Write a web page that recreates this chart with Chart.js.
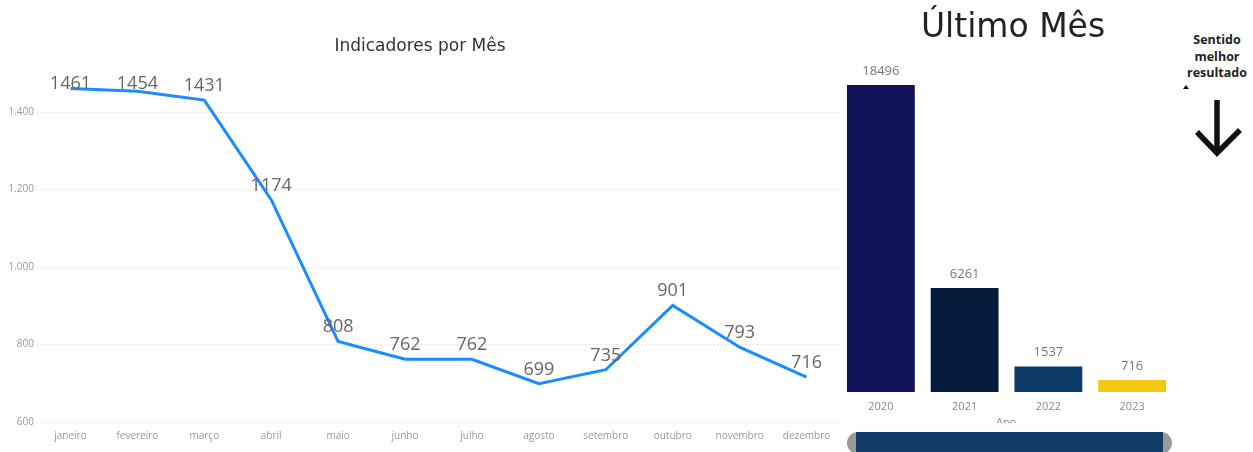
<!DOCTYPE html>
<html>
<head>
<meta charset="utf-8">
<script src="https://cdn.jsdelivr.net/npm/chart.js@4.4.0/dist/chart.umd.min.js"></script>
<style>
  body { margin: 0; background: #fff; width: 1253px; height: 452px; overflow: hidden; position: relative; font-family: 'Open Sans', sans-serif; }
  #lineWrap { position: absolute; left: 0; top: 0; width: 840px; height: 452px; }
  #barWrap { position: absolute; left: 839px; top: 0; width: 335px; height: 452px; }
  .lastTitle { position: absolute; left: 863px; top: 6px; width: 300px; text-align: center; font: 33px 'DejaVu Sans', sans-serif; color: #222; }
  .sentido { position: absolute; left: 1177px; top: 32px; width: 80px; text-align: center; font: bold 12.5px 'Open Sans', sans-serif; line-height: 16.5px; color: #222; }
  .caret { position: absolute; left: 1183px; top: 85px; width: 0; height: 0; border-left: 3px solid transparent; border-right: 3px solid transparent; border-bottom: 4px solid #111; }
  .arrow { position: absolute; left: 1190px; top: 96px; }
  .ano { position: absolute; left: 996px; top: 414px; font: 11px 'Open Sans', sans-serif; color: #888; height: 9px; overflow: hidden; }
  .scroll { position: absolute; left: 847px; top: 432px; width: 325px; height: 22px; background: #9a9a9a; border-radius: 11px; }
  .scroll div { position: absolute; left: 9px; right: 9px; top: 0; bottom: 0; background: #123c67; }
</style>
</head>
<body>
<div id="lineWrap"><canvas id="lineChart"></canvas></div>
<div id="barWrap"><canvas id="barChart"></canvas></div>
<div class="lastTitle">Último Mês</div>
<div class="sentido">Sentido<br>melhor<br>resultado</div>
<div class="caret"></div>
<svg class="arrow" width="58" height="64" viewBox="0 0 58 64">
  <line x1="27" y1="4" x2="27" y2="57" stroke="#111" stroke-width="5.5"/>
  <polyline points="7,36 27,57 50,34" fill="none" stroke="#111" stroke-width="5.5"/>
</svg>
<div class="ano">Ano</div>
<div class="scroll"><div></div></div>
<script>
const months = ['janeiro', 'fevereiro', 'março', 'abril', 'maio', 'junho', 'julho', 'agosto', 'setembro', 'outubro', 'novembro', 'dezembro'];
const monthValues = [1461, 1454, 1431, 1174, 808, 762, 762, 699, 735, 901, 793, 716];
const yTicks = [600, 800, 1000, 1200, 1400];

const years = ['2020', '2021', '2022', '2023'];
const yearValues = [18496, 6261, 1537, 716];
const yearColors = ['#0f1257', '#041b3b', '#0b3a66', '#f2c811'];

// draws the value above each point / bar
const valueLabels = {
  id: 'valueLabels',
  afterDatasetsDraw(chart, args, opts) {
    const ctx = chart.ctx;
    const meta = chart.getDatasetMeta(0);
    ctx.save();
    ctx.font = opts.font;
    ctx.fillStyle = opts.color;
    ctx.textAlign = 'center';
    ctx.textBaseline = 'alphabetic';
    meta.data.forEach((el, i) => {
      const v = chart.data.datasets[0].data[i];
      let y = el.y - opts.offset;
      if (opts.minY) y = Math.max(y, opts.minY);
      ctx.fillText(String(v), el.x, y);
    });
    ctx.restore();
  }
};

Chart.defaults.font.family = "'Open Sans', sans-serif";

new Chart(document.getElementById('lineChart'), {
  type: 'line',
  data: {
    labels: months,
    datasets: [{
      data: monthValues,
      borderColor: '#1a8cff',
      borderWidth: 3,
      pointRadius: 0,
      tension: 0
    }]
  },
  options: {
    responsive: true,
    maintainAspectRatio: false,
    animation: false,
    layout: { padding: 0 },
    plugins: {
      legend: { display: false },
      tooltip: { enabled: false },
      title: {
        display: true,
        text: 'Indicadores por Mês',
        color: '#333',
        font: { size: 17, weight: 'normal', family: "'DejaVu Sans', sans-serif" },
        padding: { top: 36, bottom: 28.6 }
      },
      valueLabels: { font: "18px 'Open Sans', sans-serif", color: '#666', offset: 9, minY: 89 }
    },
    scales: {
      x: {
        offset: true,
        grid: { display: false },
        border: { display: false },
        ticks: { color: '#999', font: { size: 10 }, padding: 0, maxRotation: 0, autoSkip: false },
        afterFit: s => { s.height = 30; }
      },
      y: {
        min: 600,
        max: 1470,
        afterBuildTicks: axis => { axis.ticks = yTicks.map(v => ({ value: v })); },
        grid: { color: '#d0d0d0', lineWidth: 1, drawTicks: false },
        border: { display: false, dash: [1, 3] },
        ticks: {
          color: '#999',
          font: { size: 10 },
          padding: 3,
          callback: v => v.toLocaleString('pt-BR')
        },
        afterFit: s => { s.width = 37; }
      }
    }
  },
  plugins: [valueLabels]
});

new Chart(document.getElementById('barChart'), {
  type: 'bar',
  data: {
    labels: years,
    datasets: [{
      data: yearValues,
      backgroundColor: yearColors,
      categoryPercentage: 0.81,
      barPercentage: 1
    }]
  },
  options: {
    responsive: true,
    maintainAspectRatio: false,
    animation: false,
    layout: { padding: { left: 0, right: 0, top: 60, bottom: 0 } },
    plugins: {
      legend: { display: false },
      tooltip: { enabled: false },
      valueLabels: { font: "13px 'Open Sans', sans-serif", color: '#777', offset: 10 }
    },
    scales: {
      x: {
        grid: { display: false },
        border: { display: false },
        ticks: { color: '#888', font: { size: 11 }, padding: 0 },
        afterFit: s => { s.height = 60; }
      },
      y: {
        display: false,
        min: 0,
        max: 20000
      }
    }
  },
  plugins: [valueLabels]
});
</script>
</body>
</html>
